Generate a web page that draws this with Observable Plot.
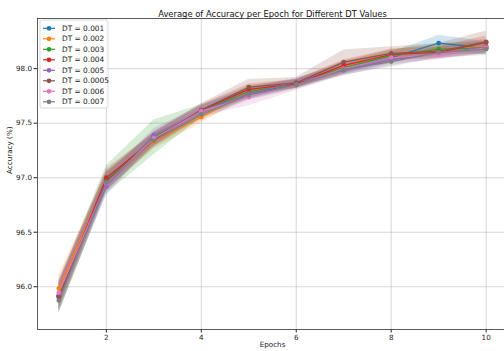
<!DOCTYPE html>
<html>
<head>
<meta charset="utf-8">
<script src="https://cdn.jsdelivr.net/npm/d3@7"></script>
<script src="https://cdn.jsdelivr.net/npm/@observablehq/plot@0.6"></script>
<style>
  html, body { margin: 0; padding: 0; background: #fff; }
  #chart { position: relative; width: 504px; height: 351px; overflow: hidden; }
</style>
</head>
<body>
<div id="chart"></div>
<script>
const epochs = [1, 2, 3, 4, 5, 6, 7, 8, 9, 10];
const series = ["DT = 0.001", "DT = 0.002", "DT = 0.003", "DT = 0.004", "DT = 0.005", "DT = 0.0005", "DT = 0.006", "DT = 0.007"];
const colors = ["#1f77b4", "#ff7f0e", "#2ca02c", "#d62728", "#9467bd", "#8c564b", "#e377c2", "#7f7f7f"];

const meanDT0001 = [95.92, 96.96, 97.36, 97.61, 97.77, 97.86, 98.00, 98.10, 98.235, 98.19];
const meanDT0002 = [95.985, 96.97, 97.33, 97.555, 97.79, 97.86, 98.02, 98.12, 98.17, 98.21];
const meanDT0003 = [95.90, 96.98, 97.37, 97.61, 97.79, 97.86, 98.01, 98.12, 98.18, 98.19];
const meanDT0004 = [95.91, 97.00, 97.35, 97.62, 97.81, 97.86, 98.03, 98.13, 98.15, 98.24];
const meanDT0005 = [95.92, 96.92, 97.39, 97.61, 97.77, 97.875, 97.985, 98.08, 98.14, 98.20];
const meanDT00005 = [95.91, 96.97, 97.35, 97.62, 97.83, 97.87, 98.06, 98.14, 98.16, 98.245];
const meanDT0006 = [95.945, 96.95, 97.36, 97.61, 97.74, 97.85, 98.00, 98.10, 98.13, 98.19];
const meanDT0007 = [95.875, 96.955, 97.34, 97.58, 97.76, 97.85, 97.99, 98.065, 98.15, 98.18];

const stdDT0001 = [0.12, 0.08, 0.06, 0.05, 0.05, 0.04, 0.05, 0.05, 0.07, 0.06];
const stdDT0002 = [0.12, 0.08, 0.07, 0.05, 0.05, 0.04, 0.05, 0.05, 0.05, 0.06];
const stdDT0003 = [0.14, 0.13, 0.16, 0.06, 0.05, 0.04, 0.05, 0.05, 0.05, 0.06];
const stdDT0004 = [0.12, 0.08, 0.06, 0.05, 0.05, 0.04, 0.05, 0.05, 0.05, 0.06];
const stdDT0005 = [0.12, 0.09, 0.06, 0.05, 0.05, 0.04, 0.05, 0.05, 0.05, 0.06];
const stdDT00005 = [0.15, 0.09, 0.07, 0.06, 0.07, 0.05, 0.11, 0.06, 0.07, 0.10];
const stdDT0006 = [0.12, 0.08, 0.06, 0.05, 0.08, 0.05, 0.06, 0.05, 0.05, 0.05];
const stdDT0007 = [0.12, 0.09, 0.06, 0.05, 0.05, 0.04, 0.05, 0.05, 0.05, 0.06];

const yTicks = [96.0, 96.5, 97.0, 97.5, 98.0];
const xTicks = [2, 4, 6, 8, 10];

const means = [meanDT0001, meanDT0002, meanDT0003, meanDT0004, meanDT0005, meanDT00005, meanDT0006, meanDT0007];
const stds = [stdDT0001, stdDT0002, stdDT0003, stdDT0004, stdDT0005, stdDT00005, stdDT0006, stdDT0007];

const rows = [];
series.forEach((s, i) => {
  epochs.forEach((e, j) => {
    rows.push({series: s, epoch: e, mean: means[i][j], lo: means[i][j] - stds[i][j], hi: means[i][j] + stds[i][j]});
  });
});

const font = "DejaVu Sans, sans-serif";
const plot = Plot.plot({
  width: 504,
  height: 351,
  marginLeft: 37,
  marginRight: -3,
  marginTop: 18,
  marginBottom: 22,
  style: {fontFamily: font, fontSize: "7.2px", color: "#222", background: "#fff"},
  x: {domain: [0.55, 10.45]},
  y: {domain: [95.608, 98.46]},
  color: {domain: series, range: colors},
  marks: [
    Plot.gridX(xTicks, {stroke: "#b0b0b0", strokeOpacity: 0.65, strokeWidth: 0.8}),
    Plot.gridY(yTicks, {stroke: "#b0b0b0", strokeOpacity: 0.65, strokeWidth: 0.8}),
    Plot.areaY(rows, {x: "epoch", y1: "lo", y2: "hi", z: "series", fill: "series", fillOpacity: 0.2}),
    Plot.line(rows, {x: "epoch", y: "mean", z: "series", stroke: "series", strokeWidth: 1.2}),
    Plot.dot(rows, {x: "epoch", y: "mean", fill: "series", r: 2.4}),
    Plot.axisX({ticks: xTicks, tickSize: 3.5, tickPadding: 2, label: null, fontSize: 7.2}),
    Plot.axisY({ticks: yTicks, tickSize: 3.5, tickPadding: 2, tickFormat: ".1f", label: null, fontSize: 7.2}),
    Plot.frame({stroke: "#333", strokeWidth: 0.8}),
    Plot.text(["Average of Accuracy per Epoch for Different DT Values"], {frameAnchor: "top", dy: -7, fontSize: 8.4, fill: "#111"}),
    Plot.text(["Epochs"], {frameAnchor: "bottom", dy: 17, fontSize: 7.2, fill: "#222"}),
    Plot.text(["Accuracy (%)"], {frameAnchor: "left", dx: -28, rotate: -90, fontSize: 7.2, fill: "#222"})
  ]
});
document.getElementById("chart").appendChild(plot);

// legend
const svg = d3.select(plot);
const lg = svg.append("g").attr("transform", "translate(40,20)").attr("text-anchor", "start");
lg.append("rect").attr("x", 0).attr("y", 0).attr("width", 68).attr("height", 88)
  .attr("rx", 2).attr("fill", "#fff").attr("fill-opacity", 0.8).attr("stroke", "#d0d0d0").attr("stroke-width", 0.8);
series.forEach((s, i) => {
  const y = 8.3 + i * 10.5;
  lg.append("line").attr("x1", 3).attr("x2", 15).attr("y1", y).attr("y2", y)
    .attr("stroke", colors[i]).attr("stroke-width", 1.2);
  lg.append("circle").attr("cx", 9).attr("cy", y).attr("r", 2.4).attr("fill", colors[i]);
  lg.append("text").attr("x", 22).attr("y", y).attr("dy", "0.35em").attr("text-anchor", "start")
    .attr("font-family", font).attr("font-size", 7.4).attr("fill", "#222").text(s);
});
</script>
</body>
</html>
